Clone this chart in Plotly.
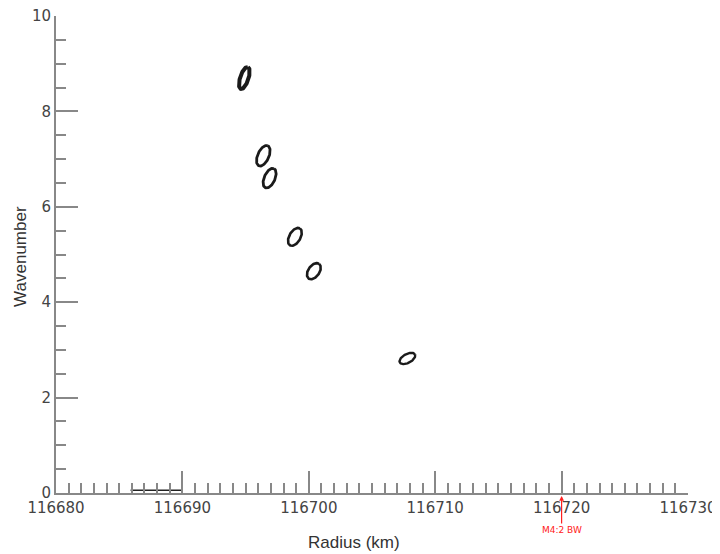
import numpy as np
import plotly.graph_objects as go

# ---- data ----
ell_radius = [116694.9, 116696.4, 116696.9, 116698.9, 116700.4, 116707.8]
ell_wavenum = [8.70, 7.07, 6.60, 5.37, 4.65, 2.82]
ell_semi_major_px = [11.5, 11.0, 10.5, 9.8, 9.0, 8.6]
ell_semi_minor_px = [4.2, 5.6, 5.4, 5.6, 5.6, 4.4]
ell_angle_deg = [72, 66, 66, 60, 55, 28]
ell_width = [4.0, 2.8, 2.8, 2.6, 2.6, 2.4]

scale_bar_x = [116685.9, 116690.0]
scale_bar_y = [0.06, 0.06]

marker_x = 116720
marker_label = "M4:2 BW"

x_title = "Radius (km)"
y_title = "Wavenumber"

x_range = [116680, 116730]
y_range = [0, 10]

# ---- layout geometry (browser body has an 8px margin) ----
PAD = 8
W, H = 720 - PAD, 554 - PAD
ML, MR, MT, MB = 56 - PAD, 32, 16 - PAD, 61
px_per_x = (W - ML - MR) / (x_range[1] - x_range[0])
px_per_y = (H - MT - MB) / (y_range[1] - y_range[0])

fig = go.Figure()

t = np.linspace(0, 2 * np.pi, 100)
for cx, cy, a, b, ang, lw in zip(ell_radius, ell_wavenum, ell_semi_major_px,
                                 ell_semi_minor_px, ell_angle_deg, ell_width):
    th = np.deg2rad(ang)
    u = a * np.cos(t)
    v = b * np.sin(t)
    X = u * np.cos(th) - v * np.sin(th)
    Y = u * np.sin(th) + v * np.cos(th)
    fig.add_trace(go.Scatter(x=cx + X / px_per_x, y=cy + Y / px_per_y,
                             mode="lines", line=dict(color="#1a1a1a", width=lw),
                             hoverinfo="skip", showlegend=False))

fig.add_trace(go.Scatter(x=scale_bar_x, y=scale_bar_y, mode="lines",
                         line=dict(color="#222222", width=1.5),
                         cliponaxis=False, showlegend=False, hoverinfo="skip"))

fig.add_annotation(x=marker_x, y=0, xref="x", yref="y", text=marker_label,
                   showarrow=True, arrowhead=2, arrowsize=0.8, arrowwidth=1.2,
                   arrowcolor="#ff2020", ax=0, ay=37, standoff=3,
                   font=dict(family="DejaVu Sans", size=9, color="#ff2020"))

title_font = dict(family="Liberation Sans", size=17, color="#333333")
fig.add_annotation(text=x_title, xref="paper", yref="paper", x=0.4715, y=0,
                   xanchor="center", yanchor="middle", yshift=-49,
                   showarrow=False, font=title_font)
fig.add_annotation(text=y_title, xref="paper", yref="paper", x=0, y=0.495,
                   xanchor="center", yanchor="middle", xshift=-35, textangle=-90,
                   showarrow=False, font=title_font)

axis_common = dict(
    showgrid=False, zeroline=False, showline=True, linecolor="#888888", linewidth=2,
    ticks="inside", ticklen=22, tickwidth=2, tickcolor="#888888", automargin=False,
    ticklabeloverflow="allow",
    tickfont=dict(family="DejaVu Sans", size=15, color="#444444"),
)

fig.update_xaxes(range=x_range, dtick=10, tick0=116680, **axis_common,
                 minor=dict(ticks="inside", ticklen=10, tickwidth=2, tickcolor="#888888", dtick=1),
                 tickformat="d")
fig.update_yaxes(range=y_range, dtick=2, **axis_common,
                 minor=dict(ticks="inside", ticklen=10, tickwidth=2, tickcolor="#888888", dtick=0.5))

fig.update_layout(width=W, height=H, margin=dict(l=ML, r=MR, t=MT, b=MB),
                  plot_bgcolor="white", paper_bgcolor="white", showlegend=False)

fig.write_html("out.html")
